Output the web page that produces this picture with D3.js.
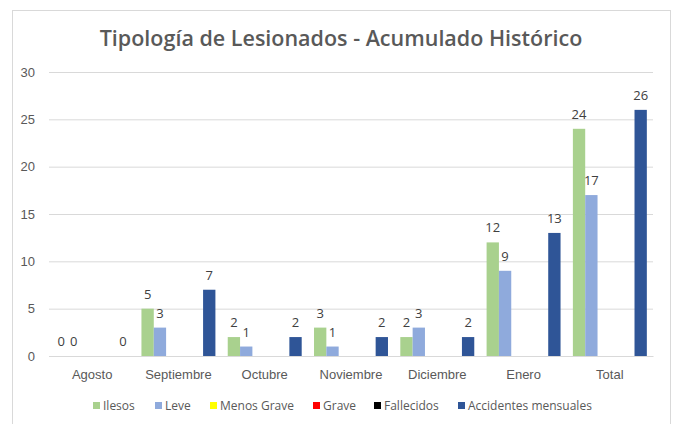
<!DOCTYPE html>
<html>
<head>
<meta charset="utf-8">
<script src="https://cdn.jsdelivr.net/npm/d3@7"></script>
<style>
  body { margin: 0; background: #fff; }
  svg { display: block; font-family: "Open Sans", "Noto Sans", sans-serif; }
</style>
</head>
<body>
<div id="chart"></div>
<script>
const categories = ["Agosto", "Septiembre", "Octubre", "Noviembre", "Diciembre", "Enero", "Total"];
const seriesNames = ["Ilesos", "Leve", "Menos Grave", "Grave", "Fallecidos", "Accidentes mensuales"];
const seriesColors = ["#A9D18E", "#8FAADC", "#FFFF00", "#FF0000", "#000000", "#2F5597"];
// null = no value shown for that month
const ilesos = [0, 5, 2, 3, 2, 12, 24];
const leve = [0, 3, 1, 1, 3, 9, 17];
const menosGrave = [null, null, null, null, null, null, null];
const grave = [null, null, null, null, null, null, null];
const fallecidos = [null, null, null, null, null, null, null];
const accidentes = [0, 7, 2, 2, 2, 13, 26];
const yTicks = [0, 5, 10, 15, 20, 25, 30];

const seriesValues = [ilesos, leve, menosGrave, grave, fallecidos, accidentes];

const width = 674, height = 424;
const margin = { top: 72, right: 21, bottom: 68, left: 49 };

const svg = d3.select("#chart").append("svg")
  .attr("width", width)
  .attr("height", height);

// chart frame
svg.append("rect")
  .attr("x", 12.5).attr("y", 10.5)
  .attr("width", 658).attr("height", 430)
  .attr("fill", "#fff")
  .attr("stroke", "#d9d9d9");

svg.append("text")
  .attr("x", 341).attr("y", 46)
  .attr("text-anchor", "middle")
  .attr("font-size", 21.5)
  .attr("font-weight", 600)
  .attr("fill", "#595959")
  .text("Tipología de Lesionados - Acumulado Histórico");

const x = d3.scaleBand()
  .domain(categories)
  .range([margin.left, width - margin.right]);

const xInner = d3.scaleBand()
  .domain(seriesNames)
  .range([0, x.bandwidth()])
  .paddingOuter(0.5);

const y = d3.scaleLinear()
  .domain([0, 30])
  .range([height - margin.bottom, margin.top]);

// gridlines + y labels
const yAxis = svg.append("g")
  .attr("transform", `translate(${margin.left},0)`)
  .call(d3.axisLeft(y).tickValues(yTicks).tickSize(-(width - margin.left - margin.right)).tickPadding(14));
yAxis.select(".domain").remove();
yAxis.selectAll(".tick line").attr("stroke", "#d9d9d9");
yAxis.selectAll(".tick text").attr("fill", "#595959").attr("font-size", 13);

// x axis
const xAxis = svg.append("g")
  .attr("transform", `translate(0,${y(0)})`)
  .call(d3.axisBottom(x).tickSize(0).tickPadding(14));
xAxis.select(".domain").attr("stroke", "#d9d9d9");
xAxis.selectAll(".tick text").attr("fill", "#595959").attr("font-size", 13);

const rows = [];
seriesNames.forEach((s, si) => {
  categories.forEach((c, ci) => {
    const v = seriesValues[si][ci];
    if (v !== null) rows.push({ series: s, color: seriesColors[si], cat: c, value: v });
  });
});

svg.append("g").selectAll("rect")
  .data(rows)
  .join("rect")
  .attr("x", d => x(d.cat) + xInner(d.series))
  .attr("y", d => y(d.value))
  .attr("width", xInner.bandwidth())
  .attr("height", d => y(0) - y(d.value))
  .attr("fill", d => d.color);

svg.append("g").selectAll("text")
  .data(rows)
  .join("text")
  .attr("x", d => x(d.cat) + xInner(d.series) + xInner.bandwidth() / 2)
  .attr("y", d => y(d.value) - 10)
  .attr("text-anchor", "middle")
  .attr("font-size", 13)
  .attr("fill", "#404040")
  .text(d => d.value);

// legend
const legendX = [93, 155, 210, 313, 374, 458];
const legend = svg.append("g").selectAll("g")
  .data(seriesNames)
  .join("g")
  .attr("transform", (d, i) => `translate(${legendX[i]},402)`);
legend.append("rect")
  .attr("width", 7).attr("height", 7)
  .attr("fill", (d, i) => seriesColors[i]);
legend.append("text")
  .attr("x", 10).attr("y", 8)
  .attr("font-size", 12)
  .attr("fill", "#595959")
  .text(d => d);
</script>
</body>
</html>
